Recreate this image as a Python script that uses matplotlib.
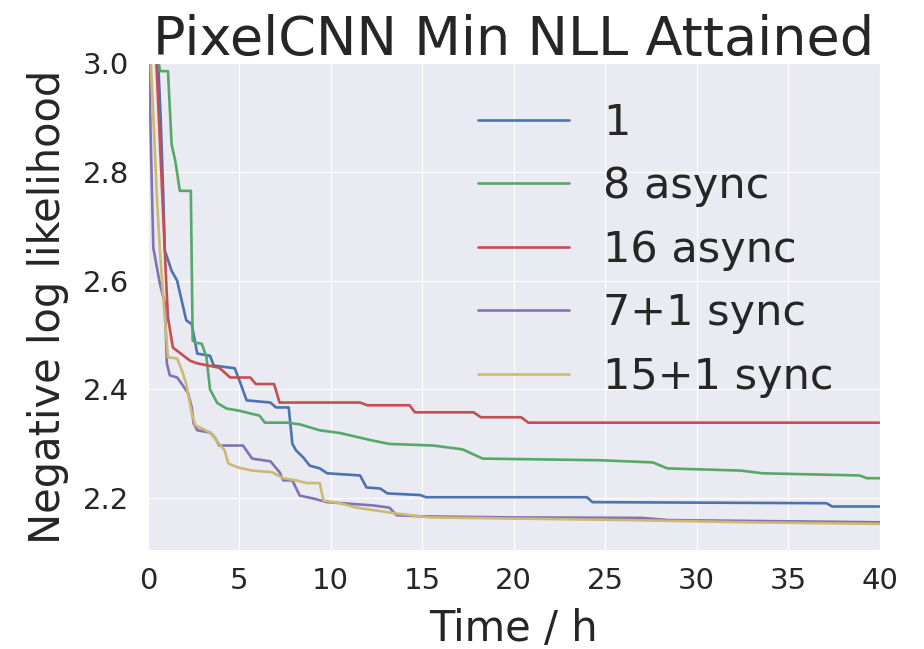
import matplotlib
matplotlib.use("Agg")
import matplotlib.pyplot as plt
import seaborn as sns

sns.set_style("darkgrid")
plt.rcParams['font.family'] = ['DejaVu Sans']

# min NLL attained over time
t_1 = [0.5, 0.7, 0.85, 0.93, 1.3, 1.6, 2.1, 2.4, 2.7, 3.4, 3.6, 4.75, 5.0, 5.4, 6.7, 7.0,
       7.7, 7.9, 8.1, 8.5, 8.85, 9.4, 9.8, 11.6, 11.95, 12.7, 13.1, 14.9, 15.2, 24.0, 24.3,
       37.1, 37.4, 40]
nll_1 = [3.05, 2.9, 2.75, 2.655, 2.618, 2.60, 2.527, 2.52, 2.466, 2.462, 2.444, 2.439, 2.417,
         2.38, 2.376, 2.367, 2.367, 2.30, 2.288, 2.275, 2.26, 2.255, 2.246, 2.242, 2.22, 2.218,
         2.209, 2.206, 2.202, 2.202, 2.193, 2.191, 2.185, 2.185]

t_8a = [0.4, 0.66, 1.1, 1.3, 1.5, 1.75, 2.35, 2.45, 2.6, 2.95, 3.2, 3.4, 3.8, 4.3, 5.0, 5.6,
        6.1, 6.4, 7.6, 8.3, 9.4, 10.5, 12.3, 13.2, 15.6, 17.2, 18.3, 24.7, 27.6, 28.4, 32.4,
        33.6, 38.9, 39.3, 40]
nll_8a = [3.05, 2.985, 2.985, 2.85, 2.82, 2.765, 2.765, 2.49, 2.486, 2.484, 2.46, 2.40, 2.375,
          2.365, 2.361, 2.356, 2.352, 2.339, 2.339, 2.336, 2.325, 2.32, 2.306, 2.30, 2.297,
          2.29, 2.273, 2.27, 2.266, 2.255, 2.251, 2.246, 2.242, 2.237, 2.237]

t_16a = [0.4, 0.6, 0.8, 1.0, 1.1, 1.37, 2.3, 2.7, 3.9, 4.5, 5.6, 5.9, 6.9, 7.2, 11.6, 12.0,
         14.3, 14.6, 17.8, 18.2, 20.4, 20.8, 40]
nll_16a = [3.05, 2.9, 2.75, 2.6, 2.532, 2.477, 2.453, 2.448, 2.44, 2.422, 2.422, 2.41, 2.41,
           2.376, 2.376, 2.371, 2.371, 2.358, 2.358, 2.349, 2.349, 2.339, 2.339]

t_7s = [0, 0.1, 0.2, 0.3, 0.66, 0.93, 1.04, 1.2, 1.6, 1.86, 2.2, 2.4, 2.5, 2.7, 3.4, 3.7, 3.9,
        5.2, 5.7, 6.7, 7.2, 7.4, 7.9, 8.3, 9.0, 9.8, 12.3, 13.2, 13.6, 14.9, 19.6, 27.0, 28.5, 40]
nll_7s = [3.1, 2.95, 2.8, 2.66, 2.594, 2.558, 2.448, 2.426, 2.422, 2.41, 2.393, 2.367, 2.338,
          2.325, 2.321, 2.31, 2.297, 2.297, 2.273, 2.268, 2.248, 2.233, 2.233, 2.205, 2.20,
          2.193, 2.187, 2.183, 2.169, 2.167, 2.165, 2.164, 2.160, 2.156]

t_15s = [0.1, 0.3, 0.5, 0.66, 0.93, 1.1, 1.6, 1.86, 2.1, 2.4, 2.6, 3.4, 3.9, 4.2, 4.4, 4.9,
         5.7, 6.8, 7.4, 8.1, 8.7, 9.4, 9.6, 10.5, 11.4, 13.2, 13.6, 15.4, 19.6, 26.3, 32.7, 40]
nll_15s = [3.05, 2.9, 2.75, 2.655, 2.53, 2.459, 2.457, 2.435, 2.41, 2.356, 2.334, 2.321, 2.30,
           2.288, 2.264, 2.257, 2.251, 2.248, 2.237, 2.233, 2.228, 2.228, 2.196, 2.191, 2.183,
           2.174, 2.172, 2.165, 2.163, 2.16, 2.156, 2.153]

series = [
    ("1", t_1, nll_1, "#4C72B0"),
    ("8 async", t_8a, nll_8a, "#55A868"),
    ("16 async", t_16a, nll_16a, "#C44E52"),
    ("7+1 sync", t_7s, nll_7s, "#8172B2"),
    ("15+1 sync", t_15s, nll_15s, "#CCB974"),
]

fig = plt.figure(figsize=(9.24, 6.49), dpi=100)
ax = fig.add_axes([0.160, 0.1525, 0.792, 0.7505])

for label, t, v, c in series:
    ax.plot(t, v, color=c, linewidth=1.9, label=label)

ax.set_xlim(0, 40)
ax.set_ylim(2.105, 3.0)
ax.set_xticks(range(0, 41, 5))
ax.set_yticks([2.2, 2.4, 2.6, 2.8, 3.0])
ax.tick_params(axis="x", labelsize=21, pad=9)
ax.tick_params(axis="y", labelsize=21, pad=10)

ax.set_title("PixelCNN Min NLL Attained", fontsize=39, pad=6)
ax.set_xlabel("Time / h", fontsize=30, labelpad=9)
ax.set_ylabel("Negative log likelihood", fontsize=30, labelpad=10)

ax.legend(loc="upper right", fontsize=31, frameon=False, handlelength=2.1,
          handletextpad=0.8, labelspacing=0.5, bbox_to_anchor=(0.99, 1.0))

fig.savefig("out.png", dpi=100)
